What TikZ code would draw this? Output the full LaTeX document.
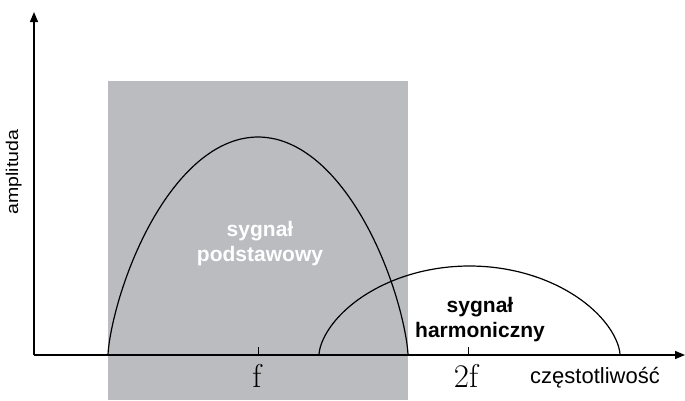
\documentclass[tikz,border=0pt]{standalone}
\usepackage{fontspec}
\newfontfamily\sanslab{Liberation Sans}
\usetikzlibrary{arrows.meta}
\definecolor{bandgray}{RGB}{187,188,192}
\tikzset{
  axisline/.style={line width=1.3pt, -{Triangle[length=10pt,width=8pt]}},
  hump/.style={line width=1.2pt},
  tickmark/.style={line width=1pt},
  signame/.style={font=\sanslab\bfseries\fontsize{21}{25}\selectfont, align=center},
  freqlab/.style={font=\fontsize{33}{33}\selectfont, anchor=base},
}
\begin{document}
\begin{tikzpicture}[x=1pt,y=-1pt]
\useasboundingbox (0,0) rectangle (685,400);
\fill[bandgray] (108,81) rectangle (408,400);
% axes
\coordinate (o) at (34,355);
\coordinate (ytop) at (34,12);
\coordinate (xend) at (685,355);
\draw[axisline] (o) -- (ytop);
\draw[axisline] (o) -- (xend);
% ticks at f and 2f
\draw[tickmark] (258,355) -- (258,347);
\draw[tickmark] (468,355) -- (468,347);
% fundamental and harmonic
\draw[hump] plot[domain=-89.99:89.99, samples=120] ({258+150*sin(\x)}, {355-218*pow(cos(\x),1.4)});
\draw[hump] plot[domain=-89.99:89.99, samples=120] ({469.5+150.5*sin(\x)}, {355-89*pow(cos(\x),1.2)});
% labels
\node[signame, text=white] (fund) at (260,244) {sygnał\\podstawowy};
\node[signame] (harm) at (480,320) {sygnał\\harmoniczny};
\node[freqlab] (f1) at (257,387) {f};
\node[freqlab] (f2) at (466,387) {2f};
\node[font=\sanslab\fontsize{22}{22}\selectfont, anchor=base] (freq) at (595,383) {częstotliwość};
\node[font=\sanslab\fontsize{17}{17}\selectfont, rotate=90, anchor=base] (amp) at (18,172) {\scalebox{1.15}[1]{amplituda}};
\end{tikzpicture}
\end{document}
